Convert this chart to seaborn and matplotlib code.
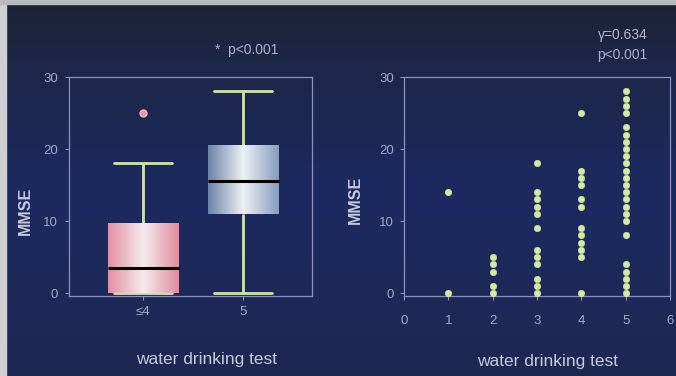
import numpy as np
import pandas as pd
import matplotlib
matplotlib.use("Agg")
import matplotlib.pyplot as plt
from matplotlib.colors import LinearSegmentedColormap, to_rgba
from matplotlib.patches import Rectangle
import seaborn as sns

# ---- data -------------------------------------------------------------
# MMSE distribution per water drinking test group (five-number summary + outlier)
group_labels = ["≤4", "5"]
mmse_le4 = [0, 0, 0, 2, 3.5, 6, 9.75, 18, 25]
mmse_5 = [0, 6, 11, 13, 15.5, 18, 20.5, 24, 28]

# individual MMSE scores per water drinking test grade
grade_values = [1, 2, 3, 4, 5]
mmse_grade1 = [14, 0]
mmse_grade2 = [5, 4, 3, 1, 0]
mmse_grade3 = [18, 14, 13, 12, 11, 9, 6, 5, 4, 2, 1, 0]
mmse_grade4 = [25, 17, 16, 15, 13, 12, 9, 8, 7, 6, 5, 0]
mmse_grade5 = [28, 27, 26, 25, 23, 22, 21, 20, 19, 18, 17, 16, 15, 14,
               13, 12, 11, 10, 8, 4, 3, 2, 1, 0]

y_ticks = [0, 10, 20, 30]
x_ticks_scatter = [0, 1, 2, 3, 4, 5, 6]
box_pvalue = "*  p<0.001"
corr_text = "γ=0.634"
corr_pvalue = "p<0.001"

# ---- style ------------------------------------------------------------
sns.set_style("ticks")
plt.rcParams["font.family"] = ["Liberation Sans", "DejaVu Sans"]

spine_col = "#8b92bf"
tick_col = "#a3a7c6"
label_col = "#c6c9dc"
whisker_col = "#cfe6a8"
dot_col = "#d2ec9c"

fig = plt.figure(figsize=(6.76, 3.76), dpi=100)

# backdrop: dark navy, darker towards the top
bg = fig.add_axes([0, 0, 1, 1], zorder=-10)
bg_cmap = LinearSegmentedColormap.from_list(
    "bg", [(0.0, "#1c2233"), (0.15, "#1d2645"), (0.5, "#1b2a60"), (1.0, "#1d2852")])
bg.imshow(np.linspace(0, 1, 200)[:, None], aspect="auto", cmap=bg_cmap,
          extent=(0, 1, 0, 1), vmin=0, vmax=1)
bg.set_xlim(0, 1)
bg.set_ylim(0, 1)
bg.axis("off")
fig.patches.append(Rectangle((0, 0), 6 / 676, 1, transform=fig.transFigure,
                             color="#cfd0d4", zorder=-5))
fig.patches.append(Rectangle((0, 1 - 4 / 376), 1, 4 / 376, transform=fig.transFigure,
                             color="#b9bbc2", zorder=-5))

ax1 = fig.add_axes([69 / 676, 1 - 296 / 376, 243 / 676, 219 / 376])
ax2 = fig.add_axes([404 / 676, 1 - 296 / 376, 266 / 676, 219 / 376])

# ---- left: box plot -----------------------------------------------------
box_df = pd.DataFrame({
    "group": [group_labels[0]] * len(mmse_le4) + [group_labels[1]] * len(mmse_5),
    "MMSE": mmse_le4 + mmse_5,
})
sns.boxplot(data=box_df, x="group", y="MMSE", order=group_labels, ax=ax1,
            width=0.71, whis=1.5, color="white", linecolor=whisker_col,
            linewidth=2.0,
            medianprops=dict(color="black", linewidth=2.2),
            flierprops=dict(marker="o", markerfacecolor="#e994ab",
                            markeredgecolor="#f2b6c6", markersize=5))

# horizontal sheen inside each box
box_cmaps = [
    LinearSegmentedColormap.from_list("pink", ["#e28fa2", "#f6ecef", "#e08c9f"]),
    LinearSegmentedColormap.from_list("steel", ["#6c84a6", "#eef1f5", "#879dbd"]),
]
sheen = np.linspace(0, 1, 256)[None, :]
for patch, cmap in zip(list(ax1.patches), box_cmaps):
    patch.set_edgecolor("none")
    verts = patch.get_path().vertices
    x0, x1 = verts[:, 0].min(), verts[:, 0].max()
    y0, y1 = verts[:, 1].min(), verts[:, 1].max()
    im = ax1.imshow(sheen, extent=(x0, x1, y0, y1), aspect="auto", cmap=cmap,
                    origin="lower", zorder=2.1)
    im.set_clip_path(patch)

# whiskers and caps sit behind the boxes, medians on top; widen the caps
cap_half = 0.29
median_rgba = to_rgba("black")
for ln in ax1.lines:
    xd = np.asarray(ln.get_xdata(), dtype=float)
    yd = np.asarray(ln.get_ydata(), dtype=float)
    if to_rgba(ln.get_color()) == median_rgba:
        ln.set_zorder(3)
    elif len(xd) == 2 and yd[0] == yd[1] and xd[0] != xd[1]:
        centre = xd.mean()
        ln.set_xdata([centre - cap_half, centre + cap_half])
        ln.set_zorder(2.0)
    else:
        ln.set_zorder(2.0 if ln.get_linestyle() != "None" else 3)

ax1.set_xlim(-0.74, 1.69)
ax1.set_ylim(-0.4, 30)
ax1.set_yticks(y_ticks)
ax1.set_xlabel("water drinking test", fontsize=12.5, color=label_col)
ax1.xaxis.set_label_coords(0.564, -0.255)
ax1.set_ylabel("MMSE", fontsize=11.5, fontweight="bold", color=label_col)
ax1.yaxis.set_label_coords(-0.15, 0.39)
ax1.tick_params(axis="both", colors=spine_col, labelcolor=tick_col,
                labelsize=9.5, length=3, width=0.8)
ax1.tick_params(axis="y", pad=5)
ax1.tick_params(axis="x", pad=4)

# ---- right: scatter -----------------------------------------------------
grade_lists = [mmse_grade1, mmse_grade2, mmse_grade3, mmse_grade4, mmse_grade5]
scatter_df = pd.DataFrame({
    "grade": [g for g, vals in zip(grade_values, grade_lists) for _ in vals],
    "MMSE": [v for vals in grade_lists for v in vals],
})
sns.scatterplot(data=scatter_df, x="grade", y="MMSE", ax=ax2, s=22,
                color=dot_col, edgecolor="#e6f6c6", linewidth=0.3,
                clip_on=False, zorder=3)
ax2.set_xlim(0, 6)
ax2.set_ylim(-0.4, 30)
ax2.set_xticks(x_ticks_scatter)
ax2.set_yticks(y_ticks)
ax2.set_xlabel("water drinking test", fontsize=12.5, color=label_col)
ax2.xaxis.set_label_coords(0.538, -0.265)
ax2.set_ylabel("MMSE", fontsize=11.5, fontweight="bold", color=label_col)
ax2.yaxis.set_label_coords(-0.155, 0.44)
ax2.tick_params(axis="both", colors=spine_col, labelcolor=tick_col,
                labelsize=9.5, length=3, width=0.8)
ax2.tick_params(axis="y", pad=4)
ax2.tick_params(axis="x", pad=11)

for ax in (ax1, ax2):
    ax.set_facecolor("none")
    for sp in ax.spines.values():
        sp.set_visible(True)
        sp.set_color(spine_col)
        sp.set_linewidth(0.9)

# ---- annotations --------------------------------------------------------
fig.text(215 / 676, 1 - 50 / 376, box_pvalue, fontsize=10, color="#a9add0",
         ha="left", va="center")
fig.text(623 / 676, 1 - 35 / 376, corr_text, fontsize=10, color="#b3b6d2",
         ha="center", va="center")
fig.text(622 / 676, 1 - 55 / 376, corr_pvalue, fontsize=10, color="#a9add0",
         ha="center", va="center")

fig.savefig("out.png", dpi=100)
